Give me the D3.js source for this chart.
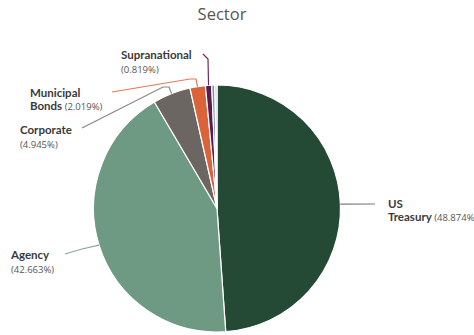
<!DOCTYPE html>
<html lang="en">
<head>
  <meta charset="UTF-8">
  <title>Sector</title>
  <script src="https://d3js.org/d3.v7.min.js"></script>
  <style>
    body { margin: 0; background: #fff; }
    text { font-family: "Open Sans", "Noto Sans", sans-serif; }
    .name { font-family: Lato, "Open Sans", sans-serif; font-size: 11.5px; fill: #3a3a3a; font-weight: 700; }
    .pct { font-size: 9.5px; fill: #555; font-weight: 400; }
  </style>
</head>
<body>

<svg id="chart" width="474" height="335"></svg>

<script>
  // data
  var sectors = ['US Treasury', 'Agency', 'Corporate', 'Municipal Bonds', 'Supranational', 'Other A', 'Other B'];
  var shares = [48.874, 42.663, 4.945, 2.019, 0.819, 0.40, 0.28];
  var colors = ['#244a35', '#6e9a84', '#6b6661', '#d9643a', '#5b1b4f', '#7b8db0', '#c9d3df'];

  var svg = d3.select('#chart');
  var cx = 217, cy = 208.5, r = 123.5;

  svg.append('text')
    .attr('x', 222).attr('y', 20)
    .attr('text-anchor', 'middle')
    .style('font-size', '16.5px')
    .style('fill', '#555')
    .text('Sector');

  var pie = d3.pie().sort(null).value(function (d) { return d; });
  var arcs = pie(shares);
  var arc = d3.arc().innerRadius(0).outerRadius(r);

  var g = svg.append('g').attr('transform', 'translate(' + cx + ',' + cy + ')');

  g.selectAll('path')
    .data(arcs)
    .enter()
    .append('path')
    .attr('d', arc)
    .attr('fill', function (d, i) { return colors[i]; })
    .attr('stroke', '#fff')
    .attr('stroke-width', 1.2);

  // point on the rim at the middle of a slice
  function rim(i) {
    var a = (arcs[i].startAngle + arcs[i].endAngle) / 2;
    return [cx + r * Math.sin(a), cy - r * Math.cos(a)];
  }

  // leader lines: start from the slice, then a few bends to the label
  var leaders = [
    { i: 0, color: '#7a7a7a', pts: [[375, 204]] },
    { i: 1, color: '#8fa59a', pts: [[82, 249], [65, 254]] },
    { i: 2, color: '#8a8580', pts: [[169, 87], [163, 87], [82, 128]] },
    { i: 3, color: '#e07a55', pts: [[196, 79], [190, 79], [112, 92]] },
    { i: 4, color: '#6b2a60', pts: [[208, 59], [203, 54]] }
  ];

  var line = d3.line().curve(d3.curveLinear);
  svg.selectAll('.leader')
    .data(leaders)
    .enter()
    .append('path')
    .attr('class', 'leader')
    .attr('d', function (d) { return line([rim(d.i)].concat(d.pts)); })
    .attr('fill', 'none')
    .attr('stroke', function (d) { return d.color; })
    .attr('stroke-width', 1.2);

  // labels
  var labels = [
    { x: 388, lines: [['US', ''], ['Treasury', ' (48.874%)']], y: 208 },
    { x: 11, lines: [['Agency', ''], ['', '(42.663%)']], y: 259 },
    { x: 20, lines: [['Corporate', ''], ['', '(4.945%)']], y: 134 },
    { x: 30, lines: [['Municipal', ''], ['Bonds', ' (2.019%)']], y: 97 },
    { x: 121, lines: [['Supranational', ''], ['', '(0.819%)']], y: 59 }
  ];

  labels.forEach(function (l) {
    l.lines.forEach(function (ln, k) {
      var t = svg.append('text')
        .attr('x', l.x)
        .attr('y', l.y + k * (ln[0] ? 13 : 14));
      if (ln[0]) t.append('tspan').attr('class', 'name').text(ln[0]);
      if (ln[1]) t.append('tspan').attr('class', 'pct').text(ln[1]);
    });
  });
</script>

</body>
</html>
